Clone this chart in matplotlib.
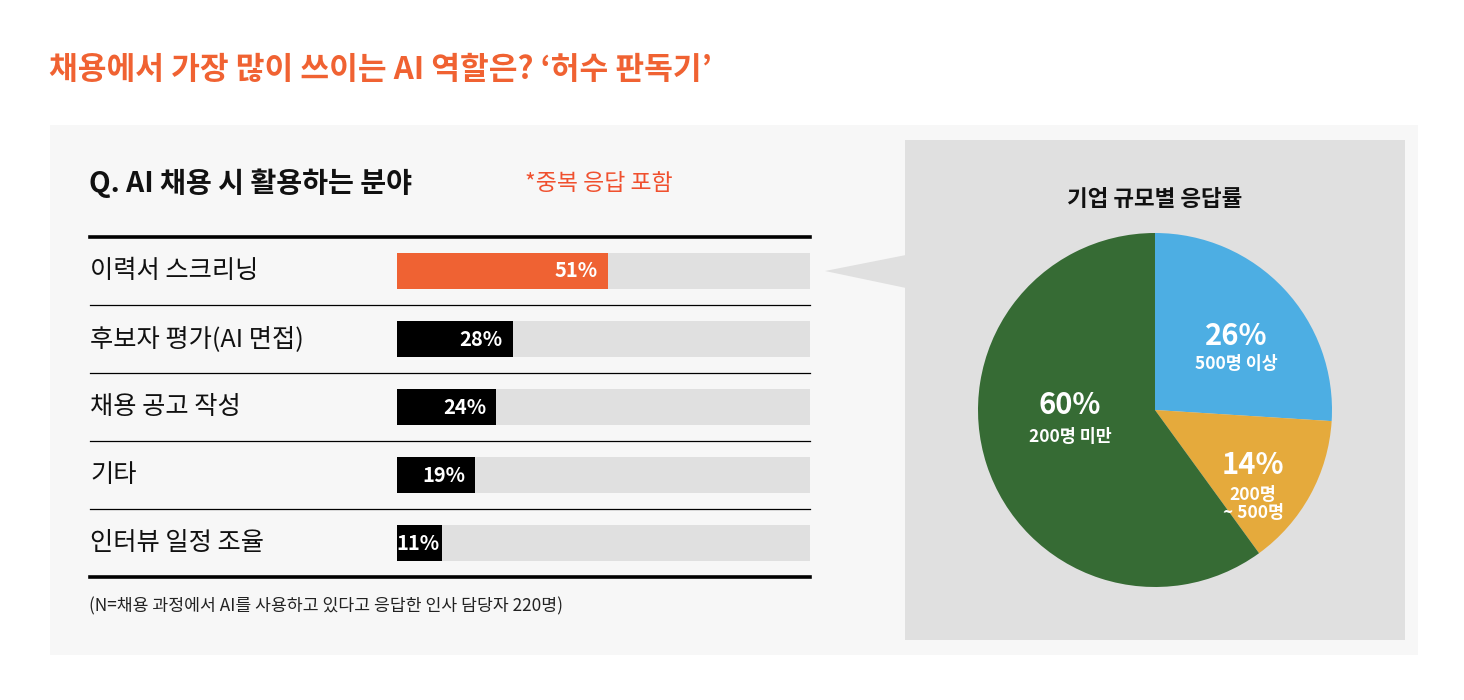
import matplotlib
matplotlib.use("Agg")
import matplotlib.pyplot as plt
from matplotlib.patches import Rectangle, Polygon

plt.rcParams['font.family'] = ['Noto Sans CJK KR', 'DejaVu Sans']

# data
categories = ["이력서 스크리닝", "후보자 평가(AI 면접)", "채용 공고 작성", "기타", "인터뷰 일정 조율"]
values = [51, 28, 24, 19, 11]
pie_values = [26, 14, 60]
pie_names = ["500명 이상", "200명\n~ 500명", "200명 미만"]

title = "채용에서 가장 많이 쓰이는 AI 역할은? ‘허수 판독기’"
subtitle = "Q. AI 채용 시 활용하는 분야"
note = "*중복 응답 포함"
footnote = "(N=채용 과정에서 AI를 사용하고 있다고 응답한 인사 담당자 220명)"
pie_title = "기업 규모별 응답률"

ORANGE = "#ef6233"
GREY = "#e0e0e0"
pie_colors = ["#4daee3", "#e5aa3c", "#366b34"]

W, H = 1464, 700
fig = plt.figure(figsize=(W / 100, H / 100), dpi=100)
fig.patch.set_facecolor("white")

def px_axes(x0, y0, x1, y1):
    return fig.add_axes([x0 / W, (H - y1) / H, (x1 - x0) / W, (y1 - y0) / H])

# base layer in pixel coords
ax0 = fig.add_axes([0, 0, 1, 1])
ax0.set_xlim(0, W)
ax0.set_ylim(H, 0)
ax0.axis("off")
ax0.add_patch(Rectangle((50, 125), 1368, 530, color="#f7f7f7", lw=0))
ax0.add_patch(Rectangle((905, 140), 500, 500, color=GREY, lw=0))
ax0.add_patch(Polygon([(825, 271), (906, 255), (906, 288)], closed=True, color=GREY, lw=0))

ax0.text(49, 70, title, fontsize=22.5, fontweight="bold", color="#f06232", va="center", ha="left")
ax0.text(89, 183, subtitle, fontsize=20.3, fontweight="bold", color="#111111", va="center", ha="left")
ax0.text(525, 183, note, fontsize=16.5, color="#f0502e", va="center", ha="left")
ax0.text(89, 606, footnote, fontsize=12.4, color="#222222", va="center", ha="left")
ax0.text(1155, 200, pie_title, fontsize=16.2, fontweight="bold", color="#111111", va="center", ha="center")

# bar chart
bar_x0, bar_x1 = 397, 810
scale = (bar_x1 - bar_x0) / 100
ax = px_axes(90, 237, 810, 577)
ax.patch.set_alpha(0)
ax.set_xlim((90 - bar_x0) / scale, 100)
ax.set_ylim(len(values), 0)
ax.axis("off")

ys = [i + 0.5 for i in range(len(values))]
ax.barh(ys, [100] * len(values), height=0.53, left=0, color=GREY, lw=0)
bar_colors = [ORANGE] + ["black"] * (len(values) - 1)
ax.barh(ys, values, height=0.53, left=0, color=bar_colors, lw=0)
for y, v, c in zip(ys, values, categories):
    pad = 2.4 if v > 15 else 0.6
    ax.text(v - pad, y, f"{v}%", color="white", fontsize=14.5, fontweight="bold",
            ha="right", va="center")
    ax.text((90 - bar_x0) / scale, y, c, color="#111111", fontsize=18.2,
            ha="left", va="center")

ax.axhline(0, color="black", lw=2.6, clip_on=False)
ax.axhline(len(values), color="black", lw=2.6, clip_on=False)
for i in range(1, len(values)):
    ax.axhline(i, color="black", lw=0.9, clip_on=False)

# pie chart
cx, cy, r = 1155, 410, 177
axp = px_axes(cx - r, cy - r, cx + r, cy + r)
axp.patch.set_alpha(0)
axp.pie(pie_values, colors=pie_colors, startangle=90, counterclock=False,
        radius=1, wedgeprops=dict(linewidth=0))
axp.set_xlim(-1, 1)
axp.set_ylim(-1, 1)
axp.set_aspect("equal")
axp.axis("off")

label_pos = [(0.46, 0.42, 0.26), (0.555, -0.31, -0.53), (-0.48, 0.03, -0.15)]
for (lx, ly, sy), v, n in zip(label_pos, pie_values, pie_names):
    axp.text(lx, ly, f"{v}%", color="white", fontsize=21, fontweight="bold",
             ha="center", va="center")
    axp.text(lx, sy, n, color="white", fontsize=12.5, fontweight="bold",
             ha="center", va="center", linespacing=1.0)

fig.savefig("out.png", dpi=100)
